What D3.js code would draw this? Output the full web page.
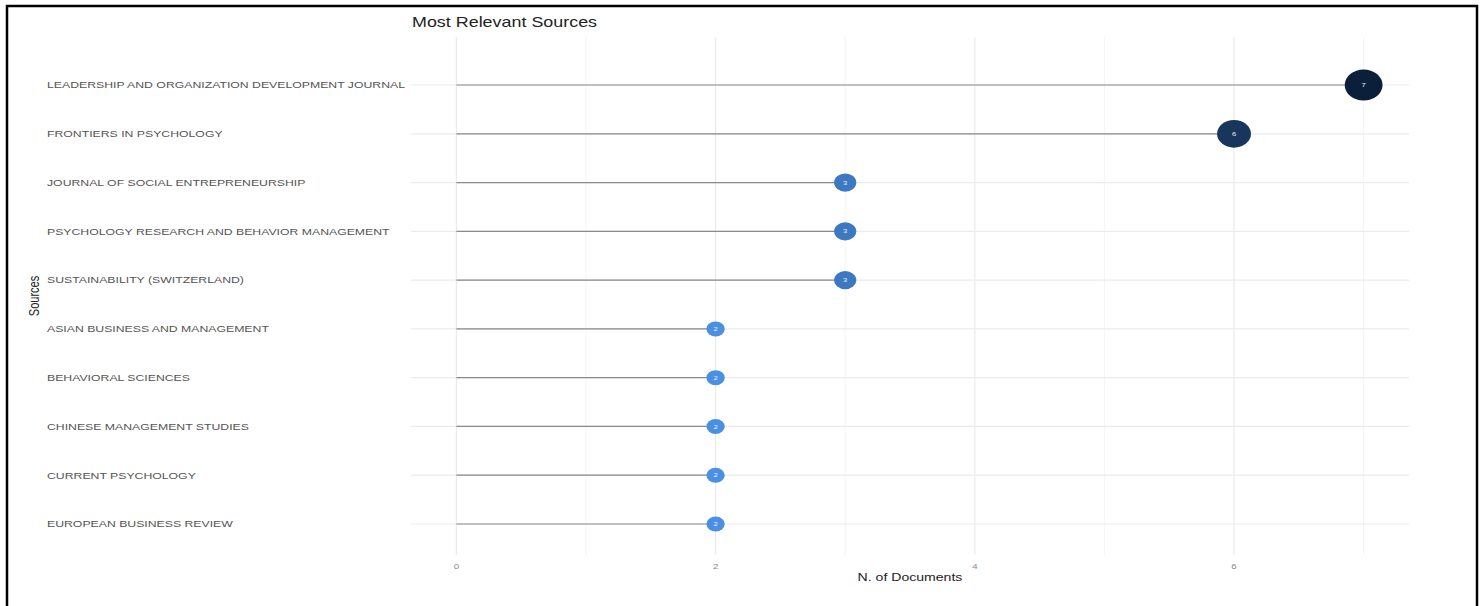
<!DOCTYPE html>
<html><head><meta charset="utf-8">
<script src="https://cdn.jsdelivr.net/npm/d3@7"></script>
<style>body{margin:0;background:#fff}svg{display:block}text{font-family:"Liberation Sans",Arial,sans-serif}</style>
</head><body>
<svg id="c" width="1484" height="606"></svg>
<script>
const sources = [
  "LEADERSHIP AND ORGANIZATION DEVELOPMENT JOURNAL",
  "FRONTIERS IN PSYCHOLOGY",
  "JOURNAL OF SOCIAL ENTREPRENEURSHIP",
  "PSYCHOLOGY RESEARCH AND BEHAVIOR MANAGEMENT",
  "SUSTAINABILITY (SWITZERLAND)",
  "ASIAN BUSINESS AND MANAGEMENT",
  "BEHAVIORAL SCIENCES",
  "CHINESE MANAGEMENT STUDIES",
  "CURRENT PSYCHOLOGY",
  "EUROPEAN BUSINESS REVIEW"
];
const documents = [7, 6, 3, 3, 3, 2, 2, 2, 2, 2];
const majorTicks = [0, 2, 4, 6];
const minorTicks = [1, 3, 5, 7];
const title = "Most Relevant Sources";
const xTitle = "N. of Documents";
const yTitle = "Sources";

const svg = d3.select("#c");
const SX = 1.28; // horizontal stretch of the original picture
const panel = {left: 411, right: 1409, top: 37, bottom: 555};

const x = d3.scaleLinear().domain([-0.35, 7.35]).range([panel.left, panel.right]);
const y = d3.scalePoint().domain(sources).range([85, 524]);
const color = d3.scaleLinear().domain([2, 7]).range(["#4a90e2", "#0b1f3a"]);
const ry = d3.scaleLinear().domain([2, 7]).range([7.5, 15.5]);

// border
svg.append("rect").attr("x", 7).attr("y", 6).attr("width", 1470).attr("height", 610)
  .attr("fill", "none").attr("stroke", "#000").attr("stroke-width", 2.5);

// grid
const g = svg.append("g");
g.selectAll(".minor").data(minorTicks).join("line")
  .attr("x1", d => x(d)).attr("x2", d => x(d)).attr("y1", panel.top).attr("y2", panel.bottom)
  .attr("stroke", "#f4f4f4").attr("stroke-width", 1);
g.selectAll(".major").data(majorTicks).join("line")
  .attr("x1", d => x(d)).attr("x2", d => x(d)).attr("y1", panel.top).attr("y2", panel.bottom)
  .attr("stroke", "#ebebeb").attr("stroke-width", 1.2);
g.selectAll(".hgrid").data(sources).join("line")
  .attr("x1", panel.left).attr("x2", panel.right).attr("y1", d => y(d)).attr("y2", d => y(d))
  .attr("stroke", "#ebebeb").attr("stroke-width", 1.2);

// segments
const data = sources.map((s, i) => ({s, v: documents[i]}));
svg.selectAll(".seg").data(data).join("line")
  .attr("x1", x(0)).attr("x2", d => x(d.v)).attr("y1", d => y(d.s)).attr("y2", d => y(d.s))
  .attr("stroke", "#8a8a8a").attr("stroke-width", 1.2);

// points
svg.selectAll(".pt").data(data).join("ellipse")
  .attr("cx", d => x(d.v)).attr("cy", d => y(d.s))
  .attr("rx", d => ry(d.v) * 1.22).attr("ry", d => ry(d.v))
  .attr("fill", d => color(d.v));
svg.selectAll(".ptl").data(data).join("text")
  .attr("transform", d => `translate(${x(d.v)},${y(d.s)}) scale(${SX},1)`)
  .attr("text-anchor", "middle").attr("dy", "0.35em")
  .attr("font-size", 6).attr("fill", "#e8eef6").text(d => d.v);

// y labels
svg.selectAll(".yl").data(sources).join("text")
  .attr("transform", d => `translate(47,${y(d)}) scale(${SX * 1.0},1)`)
  .attr("dy", "0.35em").attr("font-size", 9.6).attr("fill", "#555")
  .text(d => d);

// x tick labels
svg.selectAll(".xt").data(majorTicks).join("text")
  .attr("transform", d => `translate(${x(d)},566) scale(${SX},1)`)
  .attr("text-anchor", "middle").attr("dy", "0.35em").attr("font-size", 7.5).attr("fill", "#888")
  .text(d => d);

// titles
svg.append("text").attr("transform", `translate(412,22) scale(${SX},1)`).attr("dy", "0.35em")
  .attr("font-size", 14).attr("fill", "#222").text(title);
svg.append("text").attr("transform", `translate(910,577) scale(${SX},1)`).attr("dy", "0.35em")
  .attr("text-anchor", "middle").attr("font-size", 11).attr("fill", "#222").text(xTitle);
svg.append("text").attr("transform", `translate(34,296) rotate(-90) scale(1,${SX})`).attr("dy", "0.35em")
  .attr("text-anchor", "middle").attr("font-size", 11).attr("fill", "#222").text(yTitle);

// fit the longest label to its measured span
const labels = svg.selectAll("text").filter(function(){ return sources.includes(this.textContent); });
let maxW = 0; labels.each(function(){ maxW = Math.max(maxW, this.getComputedTextLength()); });
const k = 358 / maxW;
labels.attr("transform", d => `translate(47,${y(d)}) scale(${k},1)`);
</script>
</body></html>
